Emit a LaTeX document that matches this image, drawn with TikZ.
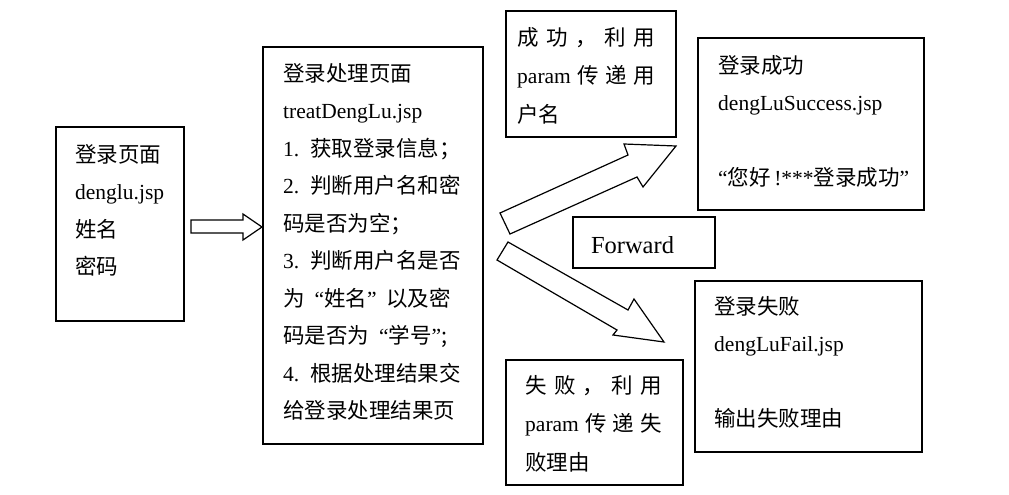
\documentclass[tikz,border=0pt]{standalone}
\usepackage{fontspec}
\setmainfont{Liberation Serif}
\newfontfamily\cjk{Noto Sans CJK SC}
\newcommand\lat[1]{{\rmfamily #1}}
\newcommand\zqo{\makebox[0.9em][r]{\rmfamily “}}
\newcommand\zqc{\makebox[0.9em][l]{\rmfamily ”}}
\newcommand\numlab[1]{\makebox[1.25em][l]{\rmfamily #1}}
\begin{document}
\begin{tikzpicture}[x=1pt,y=-1pt,
  box/.style={draw, line width=1.6pt, inner sep=0pt},
  txt/.style={inner sep=0pt, anchor=base west, align=left,
    font=\fontsize{21.5}{37.5}\selectfont\cjk},
  txtwide/.style={txt, font=\fontsize{21.5}{38.5}\selectfont\cjk},
  blockarrow/.style={draw, line width=1.2pt, line join=miter, fill=white}]
\useasboundingbox (0,0) rectangle (1009,495);

% boxes
\node[box, minimum width=128pt, minimum height=194pt] (login) at (120,224) {};
\node[box, minimum width=220pt, minimum height=397pt] (treat) at (373,245.5) {};
\node[box, minimum width=170pt, minimum height=126pt] (okparam) at (591,74) {};
\node[box, minimum width=226pt, minimum height=172pt] (success) at (811,124) {};
\node[box, minimum width=142pt, minimum height=51pt] (fwd) at (644,242.5) {};
\node[box, minimum width=227pt, minimum height=171pt] (fail) at (808.5,366.5) {};
\node[box, minimum width=177pt, minimum height=125pt] (failparam) at (594.5,422.5) {};

% texts (anchored at the baseline of their last line)
\node[txt] (loginT) at (75,274.5) {登录页面\\\lat{denglu.jsp}\\姓名\\密码};
\node[txt] (treatT) at (283,418.5) {登录处理页面\\\lat{treatDengLu.jsp}\\
  \numlab{1.}获取登录信息；\\
  \numlab{2.}判断用户名和密\\
  码是否为空；\\
  \numlab{3.}判断用户名是否\\
  为\zqo 姓名\zqc 以及密\\
  码是否为\zqo 学号\lat{”};\\
  \numlab{4.}根据处理结果交\\
  给登录处理结果页};
\node[txtwide] (okparamT) at (517,122) {\makebox[138pt][s]{成\hfill 功\hfill ，\hfill 利\hfill 用}\\
  \makebox[138pt][s]{\lat{param}\hfill 传\hfill 递\hfill 用}\\户名};
\node[txt] (successT) at (718,185.5) {登录成功\\\lat{dengLuSuccess.jsp}\\[37.5pt]
  \lat{“}您好\lat{\,!***}登录成功\lat{”}};
\node[inner sep=0pt, anchor=base, font=\fontsize{24.5}{28}\selectfont] (fwdT) at (632.5,253) {Forward};
\node[txt] (failT) at (714,426.5) {登录失败\\\lat{dengLuFail.jsp}\\[37.5pt]输出失败理由};
\node[txtwide] (failparamT) at (525,470) {\makebox[137pt][s]{失\hfill 败\hfill ，\hfill 利\hfill 用}\\
  \makebox[137pt][s]{\lat{param}\hfill 传\hfill 递\hfill 失}\\败理由};

% block arrows
\draw[blockarrow] (191,220) -- (243,220) -- (243,214) -- (262,227) -- (243,240) -- (243,233) -- (191,233) -- cycle;
\draw[blockarrow] (500,213) -- (628,155) -- (624,144) -- (676,146) -- (643,187) -- (637,177) -- (510,234) -- cycle;
\draw[blockarrow] (508,242) -- (628,310) -- (634,299) -- (664,342) -- (613,335) -- (617,330) -- (497,260) -- cycle;
\end{tikzpicture}
\end{document}
